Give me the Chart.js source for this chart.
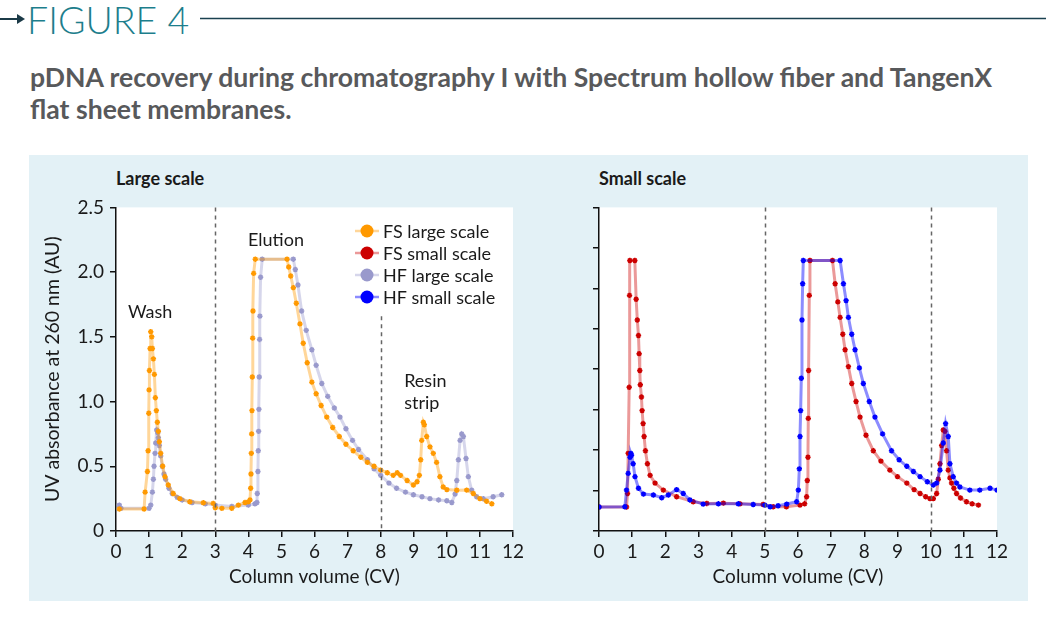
<!DOCTYPE html>
<html>
<head>
<meta charset="utf-8">
<script src="https://cdn.jsdelivr.net/npm/chart.js@4.4.1/dist/chart.umd.min.js"></script>
<style>
  body { margin: 0; width: 1046px; height: 633px; background: #fff; position: relative; overflow: hidden; font-family: Lato, sans-serif; }
  #fig { position: absolute; left: 27px; top: -1px; font-size: 37.5px; font-weight: 300; color: #1d7e8c; line-height: 42px; }
  #sub { position: absolute; left: 30px; top: 61px; width: 1016px; font-size: 26.6px; font-weight: 700; color: #58595b; line-height: 32px; }
  #panel { position: absolute; left: 29px; top: 155px; width: 999px; height: 446px; background: #e3f1f6; }
  .ptitle { position: absolute; top: 167px; font-size: 18px; font-weight: 700; color: #1a1a1a; }
  canvas { position: absolute; }
</style>
</head>
<body>
<svg width="1046" height="40" style="position:absolute;left:0;top:0">
  <line x1="0" y1="19" x2="20" y2="19" stroke="#1b3a47" stroke-width="2"/>
  <polygon points="17,14 25,19 17,24" fill="#1b3a47"/>
  <line x1="200" y1="18.5" x2="1046" y2="18.5" stroke="#1b4150" stroke-width="1.5"/>
</svg>
<div id="fig">FIGURE 4</div>
<div id="sub">pDNA recovery during chromatography I with Spectrum hollow fiber and TangenX<br>flat sheet membranes.</div>
<div id="panel"></div>
<div class="ptitle" style="left:116px">Large scale</div>
<div class="ptitle" style="left:599px">Small scale</div>
<canvas id="largeChart" width="500" height="401" style="left:30px;top:190px"></canvas>
<canvas id="smallChart" width="484" height="401" style="left:530px;top:190px"></canvas>
<script>
// 축 눈금
const cvTicks = [0, 1, 2, 3, 4, 5, 6, 7, 8, 9, 10, 11, 12];
const auTicks = [0, 0.5, 1.0, 1.5, 2.0, 2.5];
const smallAuTicks = [0, 0.3125, 0.625, 0.9375, 1.25, 1.5625, 1.875, 2.1875, 2.5];

const seriesNames = ['FS large scale', 'FS small scale', 'HF large scale', 'HF small scale'];

// FS large scale (orange)
const fsLargeCV = [0.1, 0.85, 0.88, 0.95, 0.97, 0.99, 1.0, 1.01, 1.03, 1.05, 1.08, 1.1, 1.13, 1.16, 1.19, 1.22, 1.25, 1.28, 1.31, 1.35, 1.41, 1.48, 1.58, 1.73, 1.93, 2.23, 2.64, 2.94,
  3.0, 3.2, 3.5, 3.7, 3.9, 4.0, 4.05, 4.07, 4.08, 4.09, 4.1, 4.11, 4.12, 4.13, 4.14, 4.16, 4.21,
  5.17, 5.22, 5.28, 5.36, 5.45, 5.56, 5.66, 5.78, 5.92, 6.05, 6.2, 6.37, 6.55, 6.75, 6.95, 7.17, 7.4, 7.6, 7.8, 8.0, 8.2, 8.38, 8.5, 8.6, 8.8, 8.99,
  9.1, 9.17, 9.21, 9.24, 9.29, 9.32, 9.39, 9.49, 9.59, 9.69, 9.79, 9.89, 10.0, 10.3, 10.6, 10.8, 11.0, 11.2, 11.36];
const fsLargeAU = [0.17, 0.17, 0.3, 0.46, 0.62, 0.91, 1.09, 1.24, 1.41, 1.54, 1.5, 1.41, 1.33, 1.21, 1.03, 0.93, 0.84, 0.77, 0.69, 0.6, 0.5, 0.42, 0.355, 0.29, 0.25, 0.226, 0.218, 0.213,
  0.18, 0.175, 0.175, 0.2, 0.22, 0.225, 0.24, 0.33, 0.44, 0.6, 0.75, 0.93, 1.19, 1.49, 1.7, 1.99, 2.1,
  2.1, 2.04, 1.97, 1.88, 1.76, 1.6, 1.45, 1.3, 1.15, 1.06, 0.97, 0.88, 0.8, 0.73, 0.67, 0.62, 0.57, 0.53, 0.5, 0.47, 0.45, 0.43, 0.45, 0.43, 0.39, 0.355,
  0.38, 0.43, 0.55, 0.7, 0.84, 0.82, 0.73, 0.65, 0.6, 0.53, 0.42, 0.34, 0.32, 0.315, 0.316, 0.29, 0.25, 0.23, 0.21];

// HF large scale (lavender)
const hfLargeCV = [0.1, 0.15, 1.0, 1.05, 1.1, 1.13, 1.15, 1.18, 1.2, 1.23, 1.26, 1.28, 1.31, 1.35, 1.4, 1.45, 1.5, 1.6, 1.7, 1.85, 2.0, 2.3, 2.7, 3.0, 3.5, 4.0, 4.2,
  4.26, 4.27, 4.29, 4.3, 4.31, 4.32, 4.33, 4.34, 4.35, 4.37, 4.42,
  5.36, 5.42, 5.5, 5.61, 5.75, 5.92, 6.05, 6.22, 6.4, 6.6, 6.77, 6.95, 7.15, 7.33, 7.6, 7.8, 8.0, 8.25, 8.48, 8.75, 8.99, 9.25, 9.49, 9.75, 10.0, 10.15,
  10.25, 10.3, 10.35, 10.4, 10.45, 10.5, 10.58, 10.65, 10.75, 10.9, 11.1, 11.4, 11.66];
const hfLargeAU = [0.2, 0.175, 0.175, 0.2, 0.3, 0.4, 0.5, 0.6, 0.68, 0.78, 0.76, 0.72, 0.66, 0.58, 0.5, 0.44, 0.4, 0.33, 0.29, 0.26, 0.24, 0.22, 0.21, 0.2, 0.19, 0.2, 0.21,
  0.22, 0.29, 0.46, 0.62, 0.77, 0.94, 1.19, 1.48, 1.66, 1.96, 2.1,
  2.1, 2.02, 1.9, 1.7, 1.55, 1.4, 1.28, 1.14, 1.04, 0.95, 0.88, 0.79, 0.7, 0.63, 0.55, 0.48, 0.43, 0.37, 0.33, 0.3, 0.28, 0.265, 0.25, 0.24, 0.234, 0.22,
  0.285, 0.39, 0.55, 0.7, 0.75, 0.73, 0.56, 0.42, 0.316, 0.265, 0.25, 0.265, 0.28];

// FS small scale (red)
const fsSmallCV = [0, 0.83, 0.86, 0.88, 0.91, 0.92, 0.93, 1.08, 1.12, 1.155, 1.19, 1.21, 1.23, 1.245, 1.28, 1.3, 1.33, 1.36, 1.4, 1.46, 1.54, 1.69, 1.94, 2.34, 2.84, 3.25, 3.75, 4.25, 4.95, 5.25, 5.65, 6.06, 6.2,
  6.26, 6.28, 6.3, 6.31, 6.32, 6.34, 6.36,
  7.04, 7.12, 7.2, 7.27, 7.35, 7.42, 7.52, 7.62, 7.75, 7.87, 8.05, 8.27, 8.5, 8.77, 9.0, 9.28, 9.5, 9.68, 9.85, 9.98, 10.08,
  10.18, 10.23, 10.28, 10.33, 10.38, 10.43, 10.48, 10.53, 10.58, 10.63, 10.7, 10.78, 10.9, 11.08, 11.25, 11.44];
const fsSmallAU = [0.185, 0.185, 0.29, 0.6, 1.11, 1.82, 2.09, 2.09, 1.79, 1.63, 1.51, 1.37, 1.24, 1.13, 1.035, 0.93, 0.83, 0.73, 0.62, 0.52, 0.43, 0.37, 0.316, 0.265, 0.226, 0.213, 0.215, 0.21, 0.205, 0.187, 0.187, 0.2, 0.21,
  0.265, 0.39, 0.57, 0.87, 1.24, 1.82, 2.09,
  2.09, 1.91, 1.77, 1.65, 1.52, 1.4, 1.27, 1.14, 1.0, 0.88, 0.74, 0.62, 0.54, 0.47, 0.42, 0.37, 0.32, 0.29, 0.265, 0.25, 0.25,
  0.29, 0.4, 0.52, 0.66, 0.78, 0.77, 0.62, 0.47, 0.41, 0.37, 0.33, 0.29, 0.255, 0.226, 0.21, 0.2];

// HF small scale (blue)
const hfSmallCV = [0, 0.78, 0.83, 0.88, 0.935, 0.96, 0.98, 1.03, 1.085, 1.19, 1.34, 1.64, 1.89, 2.09, 2.34, 2.54, 2.74, 3.14, 3.6, 4.2, 4.65, 5.0, 5.16, 5.4, 5.66, 5.96,
  6.01, 6.04, 6.06, 6.08, 6.1, 6.12, 6.14, 6.16,
  7.27, 7.37, 7.45, 7.52, 7.62, 7.72, 7.85, 7.97, 8.15, 8.32, 8.55, 8.82, 9.05, 9.28, 9.48, 9.68, 9.9, 10.08,
  10.18, 10.28, 10.38, 10.45, 10.53, 10.58, 10.68, 10.78, 10.88, 11.18, 11.48, 11.79, 12.0];
const hfSmallAU = [0.185, 0.187, 0.316, 0.445, 0.57, 0.6, 0.585, 0.52, 0.42, 0.33, 0.285, 0.278, 0.257, 0.278, 0.32, 0.29, 0.24, 0.208, 0.21, 0.21, 0.205, 0.2, 0.187, 0.195, 0.208, 0.226,
  0.316, 0.48, 0.73, 0.93, 1.18, 1.63, 1.91, 2.09,
  2.09, 1.91, 1.78, 1.65, 1.52, 1.4, 1.26, 1.14, 1.0, 0.88, 0.75, 0.62, 0.55, 0.5, 0.46, 0.42, 0.38, 0.355,
  0.37, 0.47, 0.68, 0.83, 0.73, 0.52, 0.42, 0.37, 0.34, 0.316, 0.316, 0.33, 0.316];

// 구간 구분 점선
const largeDividerCV = [3, 8];
const largeDividerTop = [2.5, 1.66];
const smallDividerCV = [5, 10];
const smallDividerTop = [2.5, 2.5];

// 그래프 주석
const largeNotes = ['Wash', 'Elution', 'Resin', 'strip'];
const largeNoteCV = [0.36, 3.99, 8.71, 8.71];
const largeNoteAU = [1.69, 2.25, 1.157, 0.987];

const colors = {
    fsLarge: '#ff9900', fsSmall: '#cc0000', hfLarge: '#9999cc', hfSmall: '#0000ff'
};
const lineColors = {
    fsLarge: 'rgba(255, 153, 0, 0.4)', fsSmall: 'rgba(204, 0, 0, 0.4)',
    hfLarge: 'rgba(153, 153, 204, 0.4)', hfSmall: 'rgba(0, 0, 255, 0.45)'
};

Chart.defaults.font.family = 'Lato, sans-serif';
Chart.defaults.color = '#1a1a1a';

function toPoints(xs, ys) {
    return xs.map((x, i) => ({ x: x, y: ys[i] }));
}

function makeSet(label, xs, ys, key) {
    return {
        label: label,
        data: toPoints(xs, ys),
        borderColor: lineColors[key],
        borderWidth: 3,
        pointStyle: 'star',
        pointRadius: 2.7,
        pointBorderWidth: 1.5,
        pointBorderColor: colors[key],
        pointBackgroundColor: colors[key],
        tension: 0
    };
}

// 플롯 영역 흰 배경
const plotBg = {
    id: 'plotBg',
    beforeDraw(chart) {
        const a = chart.chartArea;
        chart.ctx.save();
        chart.ctx.fillStyle = '#fff';
        chart.ctx.fillRect(a.left, a.top, a.right - a.left, a.bottom - a.top);
        chart.ctx.restore();
    }
};

// 점선 + 주석 텍스트
const extras = {
    id: 'extras',
    afterDatasetsDraw(chart, args, opts) {
        const ctx = chart.ctx, xs = chart.scales.x, ys = chart.scales.y;
        ctx.save();
        ctx.strokeStyle = '#666';
        ctx.lineWidth = 1.5;
        ctx.setLineDash([4, 4]);
        (opts.lineCV || []).forEach((v, i) => {
            const px = Math.round(xs.getPixelForValue(v)) + 0.5;
            ctx.beginPath();
            ctx.moveTo(px, ys.getPixelForValue(opts.lineTop[i]));
            ctx.lineTo(px, ys.getPixelForValue(0));
            ctx.stroke();
        });
        ctx.setLineDash([]);
        ctx.fillStyle = '#1a1a1a';
        ctx.font = '18px Lato';
        ctx.textBaseline = 'middle';
        (opts.notes || []).forEach((t, i) => {
            ctx.fillText(t, xs.getPixelForValue(opts.noteCV[i]), ys.getPixelForValue(opts.noteAU[i]));
        });
        ctx.restore();
    }
};

// 범례 (선 + 원)
const keyBox = {
    id: 'keyBox',
    afterDraw(chart, args, opts) {
        if (!opts.show) return;
        const ctx = chart.ctx;
        const keys = ['fsLarge', 'fsSmall', 'hfLarge', 'hfSmall'];
        ctx.save();
        ctx.font = '18px Lato';
        ctx.textBaseline = 'middle';
        seriesNames.forEach((name, i) => {
            const y = opts.y + i * opts.gap;
            ctx.strokeStyle = lineColors[keys[i]];
            ctx.lineWidth = 2.5;
            ctx.beginPath();
            ctx.moveTo(opts.x - 12, y);
            ctx.lineTo(opts.x + 12, y);
            ctx.stroke();
            ctx.fillStyle = colors[keys[i]];
            ctx.beginPath();
            ctx.arc(opts.x, y, 6.5, 0, Math.PI * 2);
            ctx.fill();
            ctx.fillStyle = '#1a1a1a';
            ctx.fillText(name, opts.x + 16, y + 1);
        });
        ctx.restore();
    }
};

function buildOptions(yTicks, showLabels, yWidth, extraOpts, keyOpts) {
    return {
        responsive: false,
        animation: false,
        layout: { padding: { top: 17, right: 17, left: 0, bottom: 0 } },
        plugins: {
            legend: { display: false },
            tooltip: { enabled: false },
            extras: extraOpts,
            keyBox: keyOpts
        },
        scales: {
            x: {
                type: 'linear', min: 0, max: 12,
                afterBuildTicks: s => { s.ticks = cvTicks.map(v => ({ value: v })); },
                afterFit: s => { s.height = 60; },
                border: { color: '#111', width: 1.5 },
                grid: { drawOnChartArea: false, color: '#111', tickLength: 6, lineWidth: 1.5 },
                ticks: { font: { size: 19 }, color: '#1a1a1a', padding: 3, maxRotation: 0 },
                title: { display: true, text: 'Column volume (CV)', font: { size: 19 }, color: '#1a1a1a', padding: { top: 0, bottom: 3 } }
            },
            y: {
                type: 'linear', min: 0, max: 2.5,
                afterBuildTicks: s => { s.ticks = yTicks.map(v => ({ value: v })); },
                afterFit: s => { s.width = yWidth; },
                border: { color: '#111', width: 1.5 },
                grid: { drawOnChartArea: false, color: '#111', tickLength: 6, lineWidth: 1.5 },
                ticks: {
                    font: { size: 19 }, color: '#1a1a1a', padding: 6,
                    callback: v => showLabels ? (v === 0 ? '0' : v.toFixed(1)) : ''
                },
                title: {
                    display: showLabels, text: 'UV absorbance at 260 nm (AU)',
                    font: { size: 19.5 }, color: '#1a1a1a', padding: { top: 11, bottom: 0 }
                }
            }
        }
    };
}

new Chart(document.getElementById('largeChart').getContext('2d'), {
    type: 'line',
    data: {
        datasets: [
            makeSet(seriesNames[0], fsLargeCV, fsLargeAU, 'fsLarge'),
            makeSet(seriesNames[2], hfLargeCV, hfLargeAU, 'hfLarge')
        ]
    },
    options: buildOptions(auTicks, true, 86,
        { lineCV: largeDividerCV, lineTop: largeDividerTop, notes: largeNotes, noteCV: largeNoteCV, noteAU: largeNoteAU },
        { show: true, x: 337, y: 41, gap: 22 }),
    plugins: [plotBg, extras, keyBox]
});

new Chart(document.getElementById('smallChart').getContext('2d'), {
    type: 'line',
    data: {
        datasets: [
            makeSet(seriesNames[3], hfSmallCV, hfSmallAU, 'hfSmall'),
            makeSet(seriesNames[1], fsSmallCV, fsSmallAU, 'fsSmall')
        ]
    },
    options: buildOptions(smallAuTicks, false, 69,
        { lineCV: smallDividerCV, lineTop: smallDividerTop, notes: [], noteCV: [], noteAU: [] },
        { show: false }),
    plugins: [plotBg, extras, keyBox]
});
</script>
</body>
</html>
